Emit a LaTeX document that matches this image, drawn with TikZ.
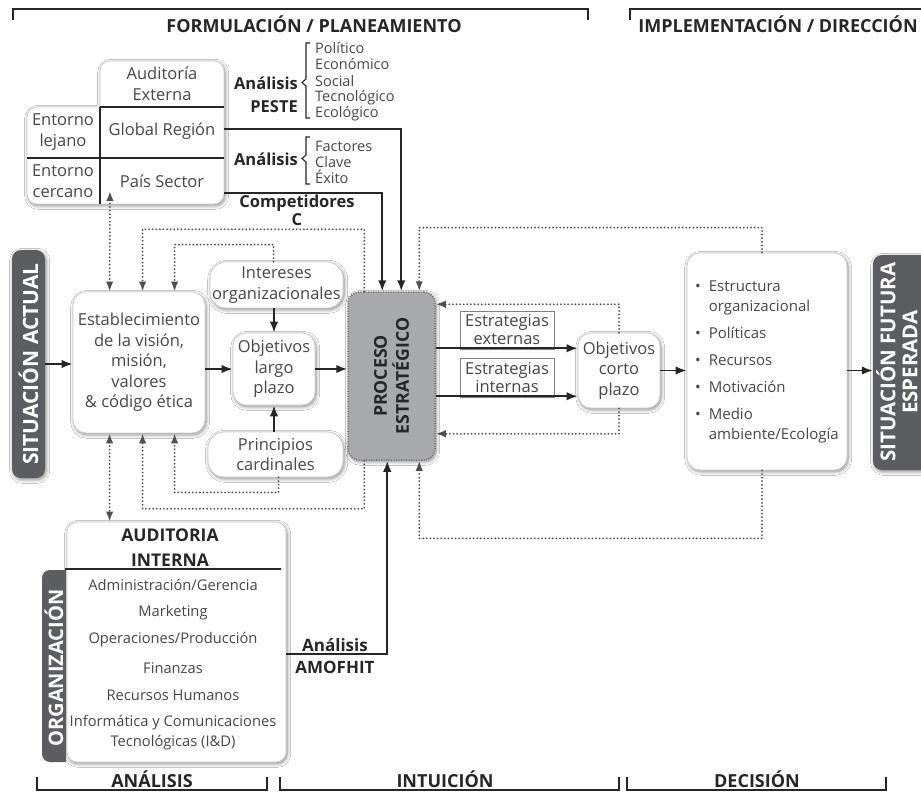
\documentclass[tikz,border=0pt]{standalone}
\usepackage{fontspec}
\setmainfont{Open Sans}
\usetikzlibrary{arrows.meta,calc,shadows.blur}

\definecolor{txt}{HTML}{47474A}
\definecolor{ink}{HTML}{262626}
\definecolor{barc}{HTML}{5C5D60}
\definecolor{procfill}{HTML}{A8A9AC}
\definecolor{procedge}{HTML}{6E6E70}
\definecolor{dotc}{HTML}{4F4F4F}
\definecolor{edge}{HTML}{CCCCCC}

\tikzset{
  softshadow/.style={blur shadow={shadow xshift=1.2pt, shadow yshift=-1.8pt, shadow blur radius=3.5pt, shadow opacity=45, shadow blur steps=8}},
  card/.style={draw=edge, line width=0.8pt, fill=white, rounded corners=13pt, softshadow},
  body/.style={text=txt, font=\fontsize{16.5}{20.5}\selectfont, align=center, inner sep=0pt},
  item/.style={text=txt, font=\fontsize{14.7}{18}\selectfont, inner sep=0pt},
  small/.style={text=txt, font=\fontsize{14.5}{16.5}\selectfont, inner sep=0pt, anchor=west},
  lbl/.style={text=ink, font=\bfseries\fontsize{16.5}{19}\selectfont, align=center, inner sep=0pt},
  heading/.style={text=ink, font=\bfseries\fontsize{18}{20}\selectfont, inner sep=0pt},
  bartext/.style={text=white, font=\bfseries\fontsize{21}{24}\selectfont, align=center, rotate=90, inner sep=0pt},
  darkbar/.style={fill=barc, rounded corners=9pt, softshadow, inner sep=0pt},
  flow/.style={draw=ink, line width=1.9pt, -{Latex[length=11pt,width=8.5pt]}},
  fb/.style={draw=dotc, line width=2pt, line cap=round, dash pattern=on 0pt off 3.6pt},
  fbtip/.style={fb, -{Latex[length=10pt,width=7.5pt]}},
  fbboth/.style={fb, {Latex[length=10pt,width=7.5pt]}-{Latex[length=10pt,width=7.5pt]}},
  rule/.style={draw=ink, line width=1.6pt},
  divider/.style={draw=ink, line width=1.1pt},
  brk/.style={draw=ink, line width=1.1pt},
  tagbox/.style={draw=gray, line width=0.9pt, fill=white, inner sep=0pt, minimum width=94pt, text=txt, font=\fontsize{16.5}{18}\selectfont, align=center},
}

\begin{document}
\begin{tikzpicture}[x=1pt,y=-1pt]
\useasboundingbox (0,0) rectangle (921,793);
\fill[white] (0,0) rectangle (921,793);
\clip (0,0) rectangle (921,793);

% ---------- phase brackets ----------
\draw[rule] (13,20) -- (13,9) -- (588,9) -- (588,20);
\draw[rule] (630,20) -- (630,9) -- (930,9);
\node[heading] (hForm) at (314,24) {FORMULACIÓN / PLANEAMIENTO};
\node[heading] (hImpl) at (778,24) {IMPLEMENTACIÓN / DIRECCIÓN};
\draw[rule] (37,777) -- (37,790) -- (267,790) -- (267,777);
\draw[rule] (280,777) -- (280,790) -- (619,790) -- (619,777);
\draw[rule] (627,777) -- (627,790) -- (886,790) -- (886,777);
\node[heading] (hAna) at (152,779) {ANÁLISIS};
\node[heading] (hInt) at (445,779) {INTUICIÓN};
\node[heading] (hDec) at (757,779) {DECISIÓN};

% ---------- external audit ----------
\path[fill=white, draw=edge, line width=0.8pt, rounded corners=10pt, softshadow]
  (100,107) -- (100,61) -- (224,61) -- (224,204) -- (27,204) -- (27,107) -- (100,107);
\draw[divider] (100,107) -- (224,107);
\draw[divider] (100,107) -- (100,204);
\draw[divider] (27,158) -- (224,158);
\node[body] (audExt) at (162,84) {Auditoría\\Externa};
\node[body] (lejano) at (63,132) {Entorno\\lejano};
\node[body] (glob) at (162,131) {Global Región};
\node[body] (cercano) at (63,181) {Entorno\\cercano};
\node[body] (pais) at (162,181) {País Sector};
\coordinate (globR) at (224,129);
\coordinate (paisR) at (224,193);
\coordinate (cercIn) at (110,191);

% PESTE analysis
\node[lbl, anchor=east] (pesteA) at (298,83) {Análisis};
\node[lbl, anchor=east] (pesteB) at (298,107) {PESTE};
\draw[brk] (310,43) -- (306,43) -- (306,79) -- (302,82.5) -- (306,86) -- (306,118) -- (310,118);
\foreach \w [count=\i] in {Político,Económico,Social,Tecnológico,Ecológico}
  \node[small] (pe\i) at (315,{48+16.5*(\i-1)}) {\w};

% key success factors
\node[lbl, anchor=east] (fcsA) at (298,159) {Análisis};
\draw[brk] (310,137) -- (306,137) -- (306,155) -- (302,158.5) -- (306,162) -- (306,184) -- (310,184);
\node[small] (fk1) at (315,146) {Factores};
\node[small] (fk2) at (315,162) {Clave};
\node[small] (fk3) at (315,177) {Éxito};

\node[lbl] (comp) at (297,203) {Competidores};
\node[lbl] (compC) at (297,220) {C};

% ---------- situation bars ----------
\node[darkbar, minimum width=33pt, minimum height=228pt] (sitA) at (28.5,364) {};
\node[bartext] (sitAT) at (sitA.center) {SITUACIÓN ACTUAL};
\node[darkbar, minimum width=70pt, minimum height=215pt] (sitF) at (908,362.5) {};
\node[bartext, font=\bfseries\fontsize{20.5}{22}\selectfont] (sitFT) at (897,362) {SITUACIÓN FUTURA\\ESPERADA};

% ---------- formulation boxes ----------
\node[card, body, minimum width=132pt, minimum height=141pt] (est) at (139,362.5)
  {Establecimiento\\de la visión,\\misión,\\valores\\\& código ética};
\node[card, body, rounded corners=16pt, minimum width=133pt, minimum height=46pt] (inter) at (276.5,285)
  {Intereses\\organizacionales};
\node[card, body, minimum width=82pt, minimum height=72pt] (objL) at (274,369)
  {Objetivos\\largo\\plazo};
\node[card, body, rounded corners=16pt, minimum width=135pt, minimum height=45pt] (princ) at (275.5,454.5)
  {Principios\\cardinales};

% strategic process
\node[fill=procfill, draw=procedge, line width=1.5pt, dash pattern=on 1pt off 1.5pt,
      rounded corners=11pt, minimum width=87pt, minimum height=168pt, softshadow] (proc) at (391.5,376) {};
\node[bartext, text=ink, font=\bfseries\fontsize{17.7}{22}\selectfont] (procT) at (proc.center) {PROCESO\\ESTRATÉGICO};

% strategies
\node[tagbox, minimum height=38pt] (stExt) at (507,330) {Estrategias\\externas};
\node[tagbox, minimum height=39pt] (stInt) at (507,377.5) {Estrategias\\internas};

\node[card, body, minimum width=82pt, minimum height=75pt] (objC) at (619,370.5)
  {Objetivos\\corto\\plazo};

% implementation
\node[card, minimum width=160pt, minimum height=217pt] (impl) at (767,361.5) {};
\node[anchor=north west, text=txt, font=\fontsize{15}{20}\selectfont, inner sep=0pt] (implL) at (695,277)
  {\begin{tabular}{@{}l@{\hspace{8pt}}l@{}}
   \textbullet & Estructura\\
               & organizacional\\[7pt]
   \textbullet & Políticas\\[7pt]
   \textbullet & Recursos\\[7pt]
   \textbullet & Motivación\\[7pt]
   \textbullet & Medio\\
               & ambiente/Ecología
   \end{tabular}};

% ---------- internal audit ----------
\node[card, rounded corners=10pt, minimum width=219pt, minimum height=240pt] (audI) at (176.5,642) {};
\begin{scope}
  \clip (0,560) rectangle (66,793);
  \fill[barc, rounded corners=8pt] (42,570) rectangle (90,762);
\end{scope}
\draw[divider] (65,569) -- (281,569);
\node[bartext, font=\bfseries\fontsize{20}{24}\selectfont] (orgT) at (54,668) {ORGANIZACIÓN};
\node[lbl, font=\bfseries\fontsize{17.5}{20}\selectfont] (audI1) at (170,535) {AUDITORIA};
\node[lbl, font=\bfseries\fontsize{17.5}{20}\selectfont] (audI2) at (170,560) {INTERNA};
\node[item] (ai1) at (173,585) {Administración/Gerencia};
\node[item] (ai2) at (173,613) {Marketing};
\node[item] (ai3) at (173,640) {Operaciones/Producción};
\node[item] (ai4) at (173,668) {Finanzas};
\node[item] (ai5) at (173,695) {Recursos Humanos};
\node[item] (ai6) at (173,723) {Informática y Comunicaciones};
\node[item] (ai7) at (173,743) {Tecnológicas (I\&D)};
\coordinate (amofR) at (286,654);
\node[lbl, font=\bfseries\fontsize{17}{20}\selectfont] (amofA) at (335,645) {Análisis};
\node[lbl, font=\bfseries\fontsize{17}{20}\selectfont] (amofB) at (335,667) {AMOFHIT};

% ---------- anchor points on the boxes ----------
\coordinate (pIn1) at ($(proc.north west)+(54,0)$);
\coordinate (pIn2) at ($(proc.north west)+(35,0)$);
\coordinate (pIn3) at ($(proc.south west)+(40,0)$);
\coordinate (pTopL) at ($(proc.north west)+(17,0)$);
\coordinate (pBotL) at ($(proc.south west)+(17,0)$);
\coordinate (pTopR) at ($(proc.north west)+(72,0)$);
\coordinate (pBotR) at ($(proc.south west)+(72,0)$);
\coordinate (pR1) at ($(proc.north east)+(0,13)$);
\coordinate (pR2) at ($(proc.south east)+(0,-27)$);
\coordinate (sOut1) at ($(proc.north east)+(0,57)$);
\coordinate (sOut2) at ($(proc.north east)+(0,105)$);
\coordinate (eT1) at ($(est.north west)+(37,0)$);
\coordinate (eT2) at ($(est.north west)+(70,0)$);
\coordinate (eT3) at ($(est.north west)+(102,0)$);
\coordinate (eB1) at ($(est.south west)+(37,0)$);
\coordinate (eB2) at ($(est.south west)+(70,0)$);
\coordinate (eB3) at ($(est.south west)+(102,0)$);

% ---------- solid flow ----------
\draw[flow] (sitA.east) -- (sitA.east -| est.west);
\draw[flow] (est.east |- objL.west) -- (objL.west);
\draw[flow] (objL.north |- inter.south) -- (objL.north);
\draw[flow] (objL.south |- princ.north) -- (objL.south);
\draw[flow] (objL.east) -- (objL.east -| proc.west);
\draw[flow] (globR) -| (pIn1);
\draw[flow] (paisR) -| (pIn2);
\draw[flow] (amofR) -| (pIn3);
\draw[flow] (sOut1) -- (sOut1 -| objC.west);
\draw[flow] (sOut2) -- (sOut2 -| objC.west);
\draw[flow] (objC.east) -- (objC.east -| impl.west);
\draw[flow] (impl.east |- objC.east) -- (objC.east -| sitF.west);

% ---------- feedback (dotted) ----------
\draw[fbboth] (eT1) -- (cercIn);
\draw[fbboth] (eB1) -- (eB1 |- audI.north);
\draw[fbtip] (pTopL) -- ++(0,-62) -| (eT2);
\draw[fbtip] (pBotL) -- ++(0,48) -| (eB2);
\draw[fbtip] ($(inter.north)+(-3,0)$) -- ++(0,-17) -| (eT3);
\draw[fbtip] ($(princ.south)+(3,0)$) -- ++(0,15) -| (eB3);
\draw[fbtip] ($(impl.north)+(-5,0)$) -- ++(0,-25) -| (pTopR);
\draw[fbtip] ($(impl.south)+(-5,0)$) -- ++(0,68) -| (pBotR);
\draw[fbtip] (objC.north) |- (pR1);
\draw[fbtip] (objC.south) |- (pR2);
\end{tikzpicture}
\end{document}
